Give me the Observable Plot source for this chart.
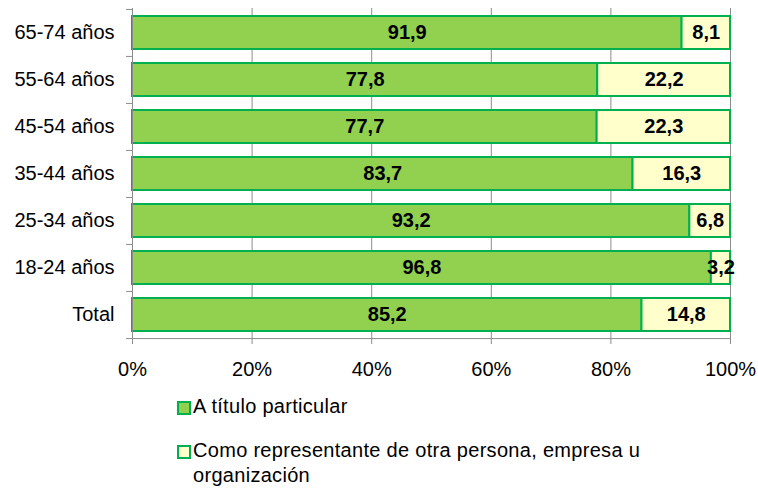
<!DOCTYPE html>
<html>
<head>
<meta charset="utf-8">
<script src="https://cdn.jsdelivr.net/npm/d3@7"></script>
<script src="https://cdn.jsdelivr.net/npm/@observablehq/plot@0.6"></script>
<style>
  body { margin: 0; background: #fff; font-family: "Liberation Sans", Arial, sans-serif; }
  #wrap { position: relative; width: 758px; height: 488px; }
  .leg { position: absolute; left: 177px; font-size: 20px; line-height: 25px; color: #000; letter-spacing: 0.3px; }
  .sw { position: absolute; left: 0; width: 10px; height: 10px; border: 2px solid #00B050; }
  .lt { position: absolute; left: 16px; width: 470px; }
</style>
</head>
<body>
<div id="wrap"></div>
<script>
const ages = ["65-74 años", "55-64 años", "45-54 años", "35-44 años", "25-34 años", "18-24 años", "Total"];
const particular = [91.9, 77.8, 77.7, 83.7, 93.2, 96.8, 85.2];
const representante = [8.1, 22.2, 22.3, 16.3, 6.8, 3.2, 14.8];
const seriesNames = ["A título particular", "Como representante de otra persona, empresa u organización"];
const seriesColors = ["#92D050", "#FFFFCC"];
const xTicks = [0, 20, 40, 60, 80, 100];

const data = ages.flatMap((age, i) => [
  {age, series: seriesNames[0], value: particular[i]},
  {age, series: seriesNames[1], value: representante[i]}
]);

const W = 758, H = 385, mT = 8, mB = 47, mL = 132, mR = 28;
const step = (H - mT - mB) / ages.length;
const fmt = v => v.toFixed(1).replace(".", ",");
const grey = "#8c8c8c";

const chart = Plot.plot({
  width: W, height: H,
  marginTop: mT, marginBottom: mB, marginLeft: mL, marginRight: mR,
  style: {fontFamily: "'Liberation Sans', Arial, sans-serif", fontSize: "20px", color: "#000", background: "#fff"},
  x: {domain: [0, 100], label: null},
  y: {domain: ages, paddingInner: 0.3, paddingOuter: 0.15, label: null},
  color: {domain: seriesNames, range: seriesColors},
  marks: [
    Plot.gridX(xTicks, {stroke: grey, strokeOpacity: 1}),
    Plot.barX(data, Plot.stackX({x: "value", y: "age", fill: "series", stroke: "#00B050", strokeWidth: 2})),
    Plot.textX(data, Plot.stackX({x: "value", y: "age", text: d => fmt(d.value), fontWeight: "bold", fontSize: 20, fill: "#000"})),
    Plot.ruleX([0], {stroke: grey}),
    Plot.ruleY(["Total"], {y: d => d, dy: step / 2, stroke: grey}),
    Plot.ruleY(ages, {y: d => d, x1: -1, x2: 0, dy: -step / 2, stroke: grey}),
    Plot.ruleY(["Total"], {y: d => d, x1: -1, x2: 0, dy: step / 2, stroke: grey}),
    Plot.axisX(xTicks, {tickSize: 6, tickPadding: 17, tickFormat: d => d + "%", stroke: grey, fill: "#000", fontSize: 20, label: null}),
    Plot.axisY({tickSize: 0, tickPadding: 18, fontSize: 20, fill: "#000", label: null, style: {letterSpacing: "0.5px"}})
  ]
});

const wrap = document.getElementById("wrap");
wrap.appendChild(chart);

const tops = [393.5, 437.5];
seriesNames.forEach((name, i) => {
  const item = document.createElement("div");
  item.className = "leg";
  item.style.top = tops[i] + "px";
  const sw = document.createElement("div");
  sw.className = "sw";
  sw.style.background = seriesColors[i];
  sw.style.top = "7px";
  const lt = document.createElement("div");
  lt.className = "lt";
  lt.textContent = name;
  item.appendChild(sw);
  item.appendChild(lt);
  wrap.appendChild(item);
});
</script>
</body>
</html>
